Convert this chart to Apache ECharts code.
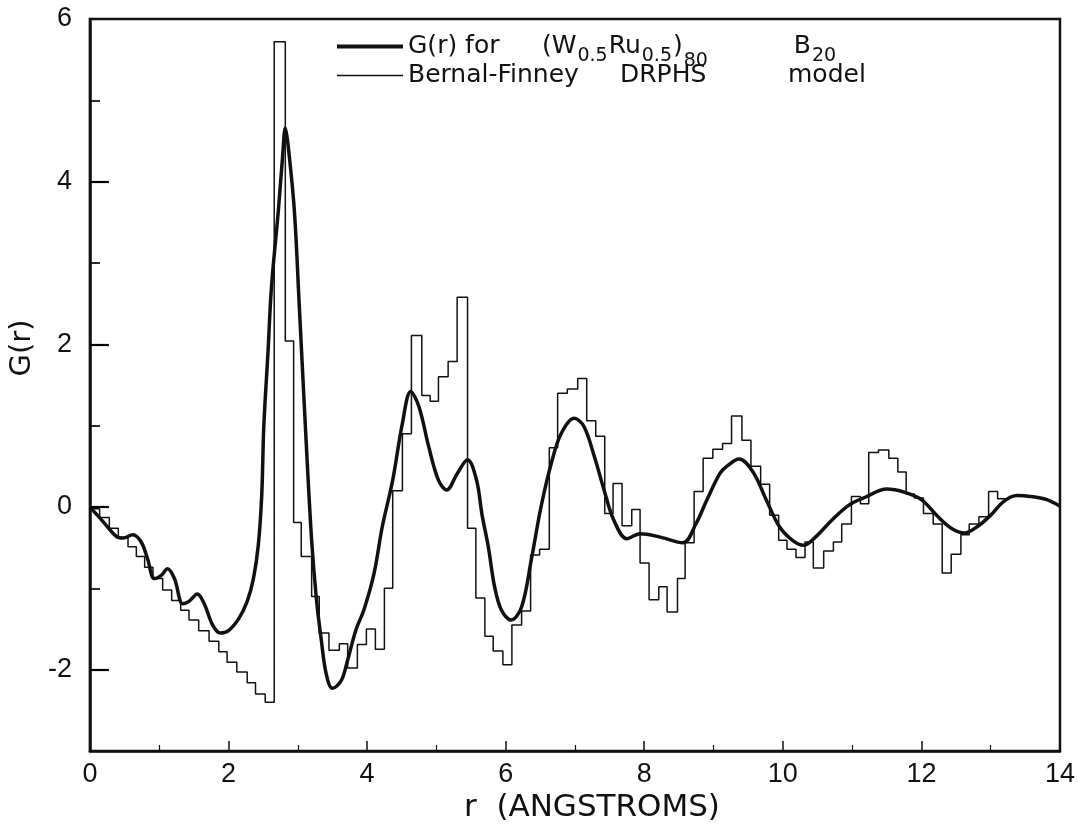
<!DOCTYPE html>
<html>
<head>
<meta charset="utf-8">
<script src="https://cdn.jsdelivr.net/npm/echarts@6/dist/echarts.min.js"></script>
<style>
html,body{margin:0;padding:0;background:#fff;}
#chart{width:1078px;height:830px;}
</style>
</head>
<body>
<div id="chart"></div>
<script>
// Smooth experimental G(r) curve
const curveR = [0, 0.19, 0.38, 0.48, 0.62, 0.74, 0.83, 0.93, 1.03, 1.12, 1.22, 1.34, 1.43, 1.55, 1.65, 1.77, 1.88, 2.0, 2.15, 2.27, 2.36, 2.43, 2.48, 2.51, 2.57, 2.62, 2.72, 2.78, 2.82, 2.86, 2.95, 3.02, 3.12, 3.20, 3.27, 3.34, 3.41, 3.50, 3.63, 3.72, 3.84, 3.96, 4.10, 4.22, 4.37, 4.51, 4.63, 4.75, 4.89, 5.03, 5.15, 5.30, 5.45, 5.58, 5.66, 5.75, 5.84, 5.94, 6.08, 6.23, 6.37, 6.51, 6.66, 6.80, 6.99, 7.13, 7.28, 7.42, 7.56, 7.75, 7.94, 8.23, 8.56, 8.75, 8.90, 9.09, 9.19, 9.37, 9.57, 9.76, 9.95, 10.14, 10.30, 10.47, 10.71, 10.95, 11.19, 11.50, 11.76, 12.0, 12.24, 12.43, 12.62, 12.81, 13.0, 13.19, 13.38, 13.57, 13.81, 14.0];
const curveG = [0, -0.18, -0.36, -0.38, -0.34, -0.43, -0.63, -0.88, -0.84, -0.76, -0.88, -1.19, -1.16, -1.07, -1.19, -1.45, -1.55, -1.52, -1.37, -1.16, -0.88, -0.47, 0.15, 1.0, 1.9, 2.7, 3.65, 4.3, 4.66, 4.45, 3.65, 2.5, 0.82, -0.41, -1.14, -1.64, -2.05, -2.23, -2.13, -1.88, -1.51, -1.25, -0.82, -0.24, 0.33, 1.03, 1.42, 1.23, 0.74, 0.33, 0.21, 0.41, 0.58, 0.33, -0.1, -0.49, -0.98, -1.27, -1.39, -1.23, -0.65, 0.0, 0.54, 0.90, 1.09, 0.99, 0.62, 0.21, -0.16, -0.39, -0.33, -0.37, -0.44, -0.20, 0.08, 0.41, 0.50, 0.59, 0.43, 0.09, -0.24, -0.41, -0.47, -0.37, -0.16, 0.02, 0.12, 0.22, 0.18, 0.09, -0.12, -0.26, -0.32, -0.24, -0.10, 0.07, 0.14, 0.13, 0.09, 0.01];

// Bernal-Finney DRPHS histogram: bin left edges and values (last edge closes the histogram)
const histR = [0.00, 0.14, 0.28, 0.41, 0.55, 0.67, 0.79, 0.91, 1.05, 1.18, 1.31, 1.43, 1.57, 1.72, 1.86, 1.98, 2.12, 2.27, 2.39, 2.53, 2.66, 2.82, 2.94, 3.05, 3.20, 3.31, 3.45, 3.60, 3.72, 3.86, 3.99, 4.12, 4.25, 4.37, 4.51, 4.64, 4.79, 4.91, 5.03, 5.17, 5.30, 5.45, 5.57, 5.70, 5.82, 5.96, 6.09, 6.23, 6.36, 6.49, 6.63, 6.75, 6.89, 7.04, 7.17, 7.30, 7.43, 7.55, 7.68, 7.82, 7.94, 8.07, 8.21, 8.33, 8.48, 8.59, 8.72, 8.85, 8.99, 9.13, 9.26, 9.41, 9.54, 9.68, 9.81, 9.94, 10.06, 10.19, 10.32, 10.44, 10.59, 10.73, 10.85, 10.99, 11.12, 11.24, 11.38, 11.53, 11.66, 11.78, 11.90, 12.03, 12.17, 12.30, 12.43, 12.57, 12.69, 12.83, 12.97, 13.10, 13.27];
const histG = [-0.02, -0.13, -0.26, -0.38, -0.49, -0.61, -0.74, -0.88, -1.02, -1.15, -1.27, -1.39, -1.52, -1.65, -1.78, -1.91, -2.03, -2.16, -2.30, -2.40, 5.72, 2.04, -0.19, -0.61, -1.10, -1.55, -1.76, -1.68, -1.98, -1.69, -1.50, -1.75, -1.00, 0.20, 0.90, 2.11, 1.37, 1.30, 1.60, 1.79, 2.58, -0.26, -1.12, -1.59, -1.77, -1.94, -1.45, -1.28, -0.59, -0.52, 0.73, 1.40, 1.45, 1.58, 1.06, 0.87, -0.08, 0.29, -0.23, -0.03, -0.69, -1.14, -0.98, -1.29, -0.88, -0.44, 0.19, 0.60, 0.71, 0.78, 1.12, 0.82, 0.50, 0.28, -0.10, -0.41, -0.52, -0.62, -0.43, -0.75, -0.54, -0.43, -0.21, 0.13, 0.04, 0.67, 0.70, 0.60, 0.43, 0.16, 0.11, -0.08, -0.21, -0.81, -0.58, -0.34, -0.21, -0.12, 0.19, 0.10, 0.10];

// Axis tick labels / ticks / titles
const yLabelValues = [-2, 0, 2, 4, 6];
const yMajorTicks = [-2, 0, 2, 4];
const yMinorTicks = [-1, 1, 3, 5];
const seriesNames = ['G(r) for (W0.5Ru0.5)80 B20', 'Bernal-Finney DRPHS model'];
const xTitle = 'r  (ANGSTROMS)';
const yTitle = 'G(r)';

const FONT = 'Liberation Sans';
const TFONT = 'DejaVu Sans';
const curveData = curveR.map((r, i) => [r, curveG[i]]);
const histData = histR.map((r, i) => [r, histG[i]]);

const chart = echarts.init(document.getElementById('chart'));
chart.setOption({
  animation: false,
  backgroundColor: '#fff',
  textStyle: {fontFamily: FONT, color: '#111'},
  grid: {left: 85, right: 15, top: 19, bottom: 79, show: true, borderColor: '#111', borderWidth: 2.5, backgroundColor: 'transparent'},
  legend: {
    orient: 'vertical', left: 332, top: 29, itemGap: -8, itemWidth: 66, itemHeight: 22,
    data: [
      {name: seriesNames[0], icon: 'path://M0,9 L66,9 L66,13 L0,13 Z'},
      {name: seriesNames[1], icon: 'path://M0,10 L66,10 L66,11.6 L0,11.6 Z'}
    ],
    itemStyle: {color: '#111'},
    textStyle: {
      fontFamily: TFONT, fontSize: 25, color: '#111',
      rich: {
        a: {fontFamily: TFONT, fontSize: 25, color: '#111', width: 134},
        m: {fontFamily: TFONT, fontSize: 25, color: '#111'},
        s: {fontFamily: TFONT, fontSize: 19, color: '#111', padding: [20, 1, 0, 1]},
        s2: {fontFamily: TFONT, fontSize: 19, color: '#111', padding: [30, 0, 0, 1], width: 110},
        bf: {fontFamily: TFONT, fontSize: 25, color: '#111', width: 212},
        dr: {fontFamily: TFONT, fontSize: 25, color: '#111', width: 168},
        n: {fontFamily: TFONT, fontSize: 25, color: '#111'}
      }
    },
    formatter: function (name) {
      if (name === seriesNames[0]) {
        return '{a|G(r) for}{m|(W}{s|0.5}{m|Ru}{s|0.5}{m|)}{s2|80}{m|B}{s|20}';
      }
      return '{bf|Bernal-Finney}{dr|DRPHS}{n|model}';
    }
  },
  xAxis: {
    type: 'value', min: 0, max: 14, interval: 2,
    name: xTitle, nameLocation: 'middle', nameGap: 36,
    nameTextStyle: {fontFamily: TFONT, fontSize: 31, color: '#111', padding: [0, 0, 0, 34]},
    axisLine: {show: true, onZero: false, lineStyle: {color: '#111', width: 2.5}},
    axisTick: {show: true, inside: true, length: 10, lineStyle: {color: '#111', width: 1.5}},
    minorTick: {show: true, splitNumber: 2, length: 6, lineStyle: {color: '#111', width: 1.2}},
    axisLabel: {fontFamily: FONT, fontSize: 27, color: '#111', margin: 10},
    splitLine: {show: false}
  },
  yAxis: [
    {
      type: 'value', min: -3, max: 6, interval: 1, z: 2,
      name: yTitle, nameLocation: 'middle', nameGap: 42, nameRotate: 90,
      nameTextStyle: {fontFamily: TFONT, fontSize: 29, color: '#111', padding: [0, 0, 0, 74]},
      axisLine: {show: true, onZero: false, lineStyle: {color: '#111', width: 2.5}},
      axisTick: {show: true, inside: true, length: 10, customValues: yMinorTicks, lineStyle: {color: '#111', width: 1.8}},
      axisLabel: {fontFamily: FONT, fontSize: 27, color: '#111', margin: 18, customValues: yLabelValues,
                  backgroundColor: 'transparent', textBorderWidth: 0},
      splitLine: {show: false}
    },
    {
      type: 'value', min: -3, max: 6, interval: 1, position: 'left', offset: 0, z: 20,
      axisLine: {show: false, onZero: false},
      axisTick: {show: true, inside: true, length: 19, customValues: yMajorTicks, lineStyle: {color: '#000', width: 2.2}},
      axisLabel: {show: false},
      splitLine: {show: false}
    }
  ],
  series: [
    {
      name: seriesNames[0], type: 'line', data: curveData, smooth: 0.35,
      showSymbol: false, symbol: 'none', yAxisIndex: 0,
      lineStyle: {color: '#111', width: 3.5}, itemStyle: {color: '#111'}, z: 3
    },
    {
      name: seriesNames[1], type: 'line', data: histData, step: 'end',
      showSymbol: false, symbol: 'none', yAxisIndex: 0,
      lineStyle: {color: '#111', width: 1.5}, itemStyle: {color: '#111'}, z: 2
    }
  ]
});
</script>
</body>
</html>
